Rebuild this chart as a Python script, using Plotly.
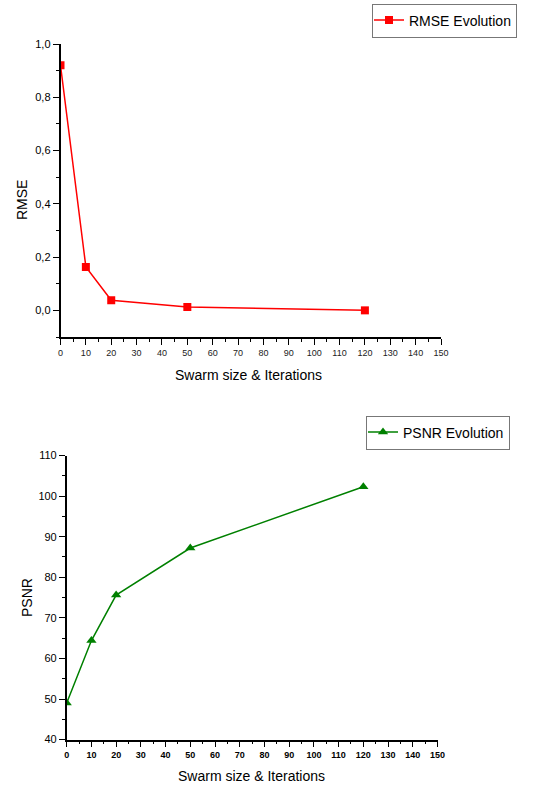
import plotly.graph_objects as go

# Data
swarm_iter = [0, 10, 20, 50, 120]
rmse_values = [0.92, 0.163, 0.038, 0.013, 0.0]
psnr_values = [49.0, 64.4, 75.6, 87.2, 102.3]
rmse_name = "RMSE Evolution"
psnr_name = "PSNR Evolution"
x_title = "Swarm size & Iterations"
rmse_title = "RMSE"
psnr_title = "PSNR"

W, H = 545, 785
FONT = "Liberation Sans, Arial, sans-serif"

def px_x(a, b):
    return [a / W, b / W]

def px_y(top, bottom):
    return [1 - bottom / H, 1 - top / H]

def fx(p):
    return p / W

def fy(p):
    return 1 - p / H

fig = go.Figure()
fig.add_trace(go.Scatter(
    x=swarm_iter, y=rmse_values, name=rmse_name, mode="lines+markers",
    line=dict(color="#ff0000", width=1.5),
    marker=dict(symbol="square", size=8, color="#ff0000"),
    xaxis="x", yaxis="y", legend="legend"))
fig.add_trace(go.Scatter(
    x=swarm_iter, y=psnr_values, name=psnr_name, mode="lines+markers",
    line=dict(color="#008000", width=1.5),
    marker=dict(symbol="triangle-up", size=9, color="#008000"),
    xaxis="x2", yaxis="y2", legend="legend2"))

axis_common = dict(showline=True, linecolor="black", linewidth=1.5,
                   ticks="outside", ticklen=6, tickwidth=1, tickcolor="black",
                   showgrid=False, zeroline=False, automargin=False)

title_font = dict(size=14, family=FONT, color="black")

fig.update_layout(
    width=W, height=H, margin=dict(l=0, r=0, t=0, b=0, autoexpand=False),
    paper_bgcolor="white", plot_bgcolor="white",
    separators=", ",
    font=dict(family=FONT, color="black"),
    xaxis=dict(domain=px_x(60.5, 441), anchor="y", range=[0, 150], dtick=10,
               minor=dict(ticks="outside", dtick=5, ticklen=3, tickcolor="black"),
               tickfont=dict(size=9, color="#222"),
               **axis_common),
    yaxis=dict(domain=px_y(44, 337), anchor="x", range=[-0.1, 1.0], dtick=0.2,
               tickformat=".1f",
               minor=dict(ticks="outside", dtick=0.1, ticklen=3, tickcolor="black"),
               tickfont=dict(size=11),
               **axis_common),
    xaxis2=dict(domain=px_x(66.7, 437.5), anchor="y2", range=[0, 150], dtick=10,
                minor=dict(ticks="outside", dtick=5, ticklen=3, tickcolor="black"),
                tickfont=dict(size=9, family="Liberation Sans, Arial", weight="bold"),
                **axis_common),
    yaxis2=dict(domain=px_y(455.5, 739.6), anchor="x2", range=[40, 110], dtick=10,
                minor=dict(ticks="outside", dtick=5, ticklen=3, tickcolor="black"),
                tickfont=dict(size=11),
                **axis_common),
    legend=dict(x=fx(517), y=fy(20.5), xanchor="right", yanchor="middle",
                bordercolor="#777", borderwidth=1, bgcolor="white",
                font=dict(size=14), itemwidth=30,
                tracegroupgap=0, indentation=-4),
    legend2=dict(x=fx(510), y=fy(432.5), xanchor="right", yanchor="middle",
                 bordercolor="#777", borderwidth=1, bgcolor="white",
                 font=dict(size=14), itemwidth=30,
                 tracegroupgap=0, indentation=-4),
    showlegend=True,
    annotations=[
        dict(text=x_title, x=fx(248.5), y=fy(375), xref="paper", yref="paper",
             xanchor="center", yanchor="middle", showarrow=False, font=title_font),
        dict(text=x_title, x=fx(251.5), y=fy(776), xref="paper", yref="paper",
             xanchor="center", yanchor="middle", showarrow=False, font=title_font),
        dict(text=rmse_title, x=fx(22), y=fy(200), xref="paper", yref="paper",
             xanchor="center", yanchor="middle", showarrow=False, textangle=-90,
             font=title_font),
        dict(text=psnr_title, x=fx(27), y=fy(598), xref="paper", yref="paper",
             xanchor="center", yanchor="middle", showarrow=False, textangle=-90,
             font=title_font),
    ],
)

fig.write_html("out.html",
               config={"displayModeBar": False},
               post_script="document.body.style.margin='0px';document.body.style.overflow='hidden';")
